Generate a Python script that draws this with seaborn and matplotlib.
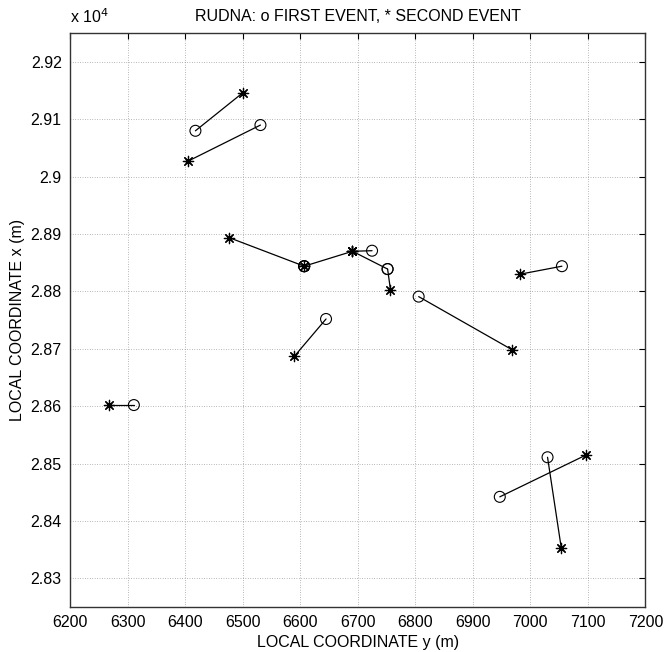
import numpy as np
import pandas as pd
import matplotlib
matplotlib.use("Agg")
import matplotlib.pyplot as plt
import seaborn as sns
from matplotlib.ticker import FuncFormatter

# Event pairs: first event (o) and second event (*), local coordinates in metres
first_y = [6418, 6531, 6607, 6725, 6752, 6752, 6607, 6607, 6806, 6645, 6311, 7055, 6947, 7030]
first_x = [29080, 29090, 28844, 28871, 28839, 28839, 28844, 28844, 28791, 28752, 28602, 28844, 28442, 28511]
second_y = [6500, 6405, 6476, 6691, 6757, 6691, 6691, 6607, 6969, 6590, 6268, 6982, 7097, 7054]
second_x = [29146, 29027, 28894, 28870, 28803, 28870, 28870, 28844, 28698, 28687, 28602, 28830, 28515, 28352]

x_ticks = [6200, 6300, 6400, 6500, 6600, 6700, 6800, 6900, 7000, 7100, 7200]
y_ticks = [28300, 28400, 28500, 28600, 28700, 28800, 28900, 29000, 29100, 29200]

sns.set_style("white")
plt.rcParams["font.family"] = ["Liberation Sans", "DejaVu Sans"]
plt.rcParams["text.color"] = "black"
plt.rcParams["axes.labelcolor"] = "black"

rows = []
for i in range(len(first_y)):
    rows.append({"pair": i, "y": first_y[i], "x": first_x[i]})
    rows.append({"pair": i, "y": second_y[i], "x": second_x[i]})
segments = pd.DataFrame(rows)
firsts = pd.DataFrame({"y": first_y, "x": first_x})
seconds = pd.DataFrame({"y": second_y, "x": second_x})

fig = plt.figure(figsize=(6.66, 6.52), dpi=100)
ax = fig.add_axes([0.1051, 0.069, 0.8639, 0.880])

sns.lineplot(data=segments, x="y", y="x", units="pair", estimator=None, sort=False,
             color="black", linewidth=0.9, ax=ax, legend=False)
sns.scatterplot(data=firsts, x="y", y="x", marker="o", s=62, facecolor="none",
                edgecolor="black", linewidth=0.8, ax=ax, legend=False, zorder=3)
sns.scatterplot(data=seconds, x="y", y="x", marker=(8, 2, 0), s=55,
                color="black", edgecolor="black", linewidth=0.9, ax=ax, legend=False, zorder=4)

ax.set_xlim(6200, 7200)
ax.set_ylim(28250, 29250)
ax.set_xticks(x_ticks)
ax.set_yticks(y_ticks)
ax.yaxis.set_major_formatter(FuncFormatter(lambda v, p: f"{v / 1e4:g}"))

ax.grid(True, color="#777777", linestyle=(0, (1, 2.5)), linewidth=0.5)
for s in ax.spines.values():
    s.set_color("#333333")
    s.set_linewidth(1.0)
ax.tick_params(direction="in", length=4, width=0.8, top=True, right=True,
               labelsize=11.5, colors="black", pad=6)

ax.set_xlabel("LOCAL COORDINATE y (m)", fontsize=11.5, labelpad=3)
ax.set_ylabel("LOCAL COORDINATE x (m)", fontsize=11.5, labelpad=4)
ax.set_title("RUDNA: o FIRST EVENT, * SECOND EVENT", fontsize=11.5, pad=9)
ax.text(0.0, 1.012, r"x 10$^{4}$", transform=ax.transAxes, fontsize=11.5,
        ha="left", va="bottom")

fig.savefig("out.png", dpi=100)
